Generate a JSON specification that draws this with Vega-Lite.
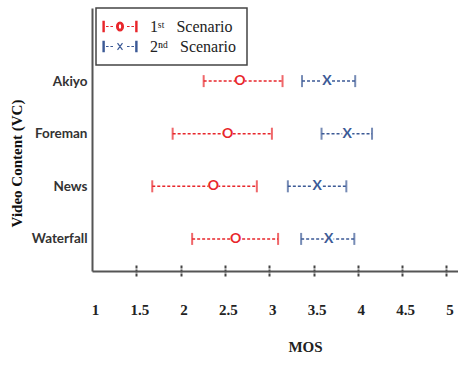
{
  "$schema": "https://vega.github.io/schema/vega-lite/v6.json",
  "width": 366,
  "height": 263,
  "autosize": {"type": "none"},
  "padding": {"left": 92, "top": 8, "right": 0, "bottom": 94},
  "background": "white",
  "config": {
    "view": {"stroke": null},
    "axis": {"grid": false},
    "legend": {
      "orient": "none",
      "legendX": 4,
      "legendY": 0,
      "title": null,
      "strokeColor": "#444",
      "strokeWidth": 1.5,
      "fillColor": "white",
      "padding": 10.5,
      "symbolSize": 64,
      "symbolOpacity": 1,
      "symbolStrokeWidth": 1.2,
      "symbolOffset": 5.5,
      "labelOffset": 22,
      "labelFont": "Liberation Serif",
      "labelFontSize": 16,
      "labelColor": "#222",
      "rowPadding": 4
    }
  },
  "data": {
    "values": [
      {"video": "Akiyo", "scenario": "1st", "lo": 2.26, "mean": 2.67, "hi": 3.15},
      {"video": "Foreman", "scenario": "1st", "lo": 1.91, "mean": 2.53, "hi": 3.03},
      {"video": "News", "scenario": "1st", "lo": 1.68, "mean": 2.37, "hi": 2.86},
      {"video": "Waterfall", "scenario": "1st", "lo": 2.13, "mean": 2.62, "hi": 3.10},
      {"video": "Akiyo", "scenario": "2nd", "lo": 3.37, "mean": 3.65, "hi": 3.97},
      {"video": "Foreman", "scenario": "2nd", "lo": 3.59, "mean": 3.88, "hi": 4.16},
      {"video": "News", "scenario": "2nd", "lo": 3.21, "mean": 3.54, "hi": 3.87},
      {"video": "Waterfall", "scenario": "2nd", "lo": 3.36, "mean": 3.67, "hi": 3.96}
    ]
  },
  "resolve": {"axis": {"x": "independent"}},
  "encoding": {
    "y": {
      "field": "video",
      "type": "nominal",
      "sort": ["Akiyo", "Foreman", "News", "Waterfall"],
      "scale": {"type": "point", "padding": 1.42, "align": 0.695},
      "axis": {
        "title": "Video Content (VC)",
        "titleFont": "Liberation Serif",
        "titleFontSize": 15,
        "titleFontWeight": "bold",
        "titleColor": "#111",
        "titlePadding": 7,
        "titleY": 155,
        "labelFont": "Lato",
        "labelFontSize": 13.5,
        "labelFontWeight": "bold",
        "labelColor": "#333",
        "labelPadding": 5,
        "ticks": false,
        "tickSize": 0,
        "domainColor": "#555",
        "domainWidth": 2
      }
    }
  },
  "layer": [
    {
      "mark": {"type": "point", "filled": false, "opacity": 0, "size": 64},
      "encoding": {
        "x": {
          "field": "mean",
          "type": "quantitative",
          "scale": {"domain": [1, 5.13], "nice": false, "zero": false},
          "axis": {
            "orient": "bottom",
            "title": null,
            "values": [1.5, 2, 2.5, 3, 3.5, 4, 4.5, 5],
            "labels": false,
            "domain": false,
            "ticks": true,
            "tickSize": 12,
            "tickWidth": 2,
            "tickDash": [3, 1],
            "tickColor": "#444",
            "offset": -6
          }
        },
        "color": {
          "field": "scenario",
          "type": "nominal",
          "scale": {"domain": ["1st", "2nd"], "range": ["#e8262b", "#3c5a96"]},
          "legend": {
            "labelExpr": "datum.label === '1st' ? '1ˢᵗ\u00a0\u00a0\u00a0Scenario' : '2ⁿᵈ\u00a0\u00a0\u00a0Scenario'"
          }
        },
        "shape": {
          "field": "scenario",
          "type": "nominal",
          "scale": {
            "domain": ["1st", "2nd"],
            "range": [
              "M-4.25,-1.3H-3.95V1.3H-4.25ZM3.95,-1.3H4.25V1.3H3.95ZM-3.5,0H-2.85M-2.4,0H-1.75M1.75,0H2.4M2.85,0H3.5M-0.85,0A0.85,1.1 0 1,1 0.85,0A0.85,1.1 0 1,1 -0.85,0ZM-0.45,0A0.45,0.72 0 1,0 0.45,0A0.45,0.72 0 1,0 -0.45,0Z",
              "M-4.25,-1.3H-3.95V1.3H-4.25ZM3.95,-1.3H4.25V1.3H3.95ZM-3.5,0H-2.85M-2.4,0H-1.75M1.75,0H2.4M2.85,0H3.5M-0.62,-0.85L0.62,0.85M-0.62,0.85L0.62,-0.85"
            ]
          },
          "legend": {
            "labelExpr": "datum.label === '1st' ? '1ˢᵗ\u00a0\u00a0\u00a0Scenario' : '2ⁿᵈ\u00a0\u00a0\u00a0Scenario'"
          }
        }
      }
    },
    {
      "mark": {"type": "rule", "strokeDash": [3, 2], "strokeWidth": 1.5},
      "encoding": {
        "x": {
          "field": "lo",
          "type": "quantitative",
          "axis": {
            "orient": "bottom",
            "title": "MOS",
            "values": [1, 1.5, 2, 2.5, 3, 3.5, 4, 4.5, 5],
            "format": ".1~f",
            "ticks": false,
            "tickSize": 0,
            "labelFont": "Liberation Serif",
            "labelFontSize": 15,
            "labelFontWeight": "bold",
            "labelColor": "#222",
            "labelPadding": 31,
            "labelOffset": 3,
            "labelFlush": false,
            "labelOverlap": false,
            "domainColor": "#555",
            "domainWidth": 2,
            "titleFont": "Liberation Serif",
            "titleFontSize": 15,
            "titleFontWeight": "bold",
            "titleColor": "#222",
            "titleX": 213,
            "titlePadding": 22
          }
        },
        "x2": {"field": "hi"},
        "color": {"field": "scenario", "type": "nominal", "legend": null}
      }
    },
    {
      "mark": {"type": "tick", "size": 12, "thickness": 2},
      "encoding": {
        "x": {"field": "lo", "type": "quantitative", "axis": null},
        "color": {"field": "scenario", "type": "nominal", "legend": null}
      }
    },
    {
      "mark": {"type": "tick", "size": 12, "thickness": 2},
      "encoding": {
        "x": {"field": "hi", "type": "quantitative", "axis": null},
        "color": {"field": "scenario", "type": "nominal", "legend": null}
      }
    },
    {
      "mark": {"type": "point", "shape": "square", "filled": true, "color": "white", "opacity": 1, "size": 100},
      "encoding": {
        "x": {"field": "mean", "type": "quantitative", "axis": null}
      }
    },
    {
      "mark": {"type": "text", "font": "Lato", "fontWeight": "bold", "fontSize": 14, "baseline": "middle", "align": "center"},
      "encoding": {
        "x": {"field": "mean", "type": "quantitative", "axis": null},
        "color": {"field": "scenario", "type": "nominal", "legend": null},
        "text": {"condition": {"test": "datum.scenario === '1st'", "value": "O"}, "value": "X"}
      }
    }
  ]
}
